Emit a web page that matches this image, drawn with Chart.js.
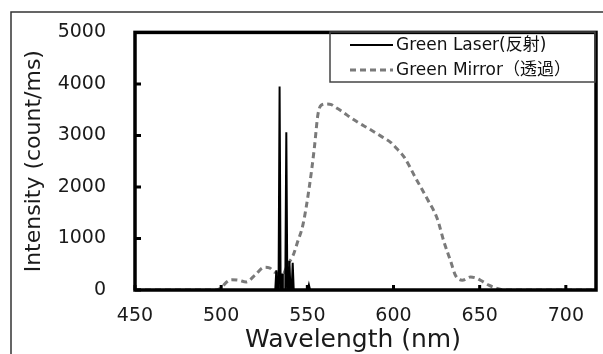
<!DOCTYPE html>
<html><head><meta charset="utf-8">
<script src="https://cdn.jsdelivr.net/npm/chart.js@4.4.1/dist/chart.umd.min.js"></script>
<style>html,body{margin:0;padding:0;background:#fff}#wrap{width:603px;height:354px;position:relative}</style>
</head><body><div id="wrap"><canvas id="c"></canvas></div>
<script>
const laserLabel = 'Green Laser(反射)';
const mirrorLabel = 'Green Mirror（透過）';
const xTitle = 'Wavelength (nm)';
const yTitle = 'Intensity (count/ms)';
const xTicks = [450, 500, 550, 600, 650, 700];
const yTicks = [0, 1000, 2000, 3000, 4000, 5000];

const laserWl  = [450, 531.4, 532.0, 532.6, 533.3, 533.9, 534.5, 534.9, 535.3, 535.8, 537.2, 537.8, 538.4, 539.0, 539.6, 540.2, 540.9, 541.5, 542.1, 550.2, 550.9, 551.6, 717];
const laserVal = [0,   0,     380,   0,     0,     3950,  0,     0,     320,   0,     0,     3060,  0,     0,     560,   0,     0,     530,   0,     0,     100,   0,     0];

const mirrorWl  = [450, 497, 500, 503, 506, 510, 514.5, 519.5, 525, 528, 531, 535.8, 538.7, 541.6, 544.5, 547.4, 551.2, 554.1, 556.1, 558, 561, 564, 566, 570, 575.6, 580, 585, 592.7, 598.5, 602, 606.2, 612.9, 619.7, 625.4, 629.2, 633.1, 636, 639.9, 644.7, 648, 650.5, 655.3, 660.1, 665, 717];
const mirrorVal = [0,   0,   40,  150, 200, 190, 157,   283,   440, 430, 345, 315,   503,   660,   950,   1258,  2013,  2767,  3396,  3585, 3610, 3598, 3553, 3470, 3334, 3240, 3145, 2987, 2862, 2740, 2579, 2170, 1760, 1383, 943, 566, 283, 189, 251, 230, 189, 94, 32, 0, 0];

const FONT = "'DejaVu Sans', 'Noto Sans CJK JP', sans-serif";
const MIRROR_COLOR = '#7a7a7a';

const decor = {
  id: 'decor',
  afterDraw(chart) {
    const ctx = chart.ctx;
    const a = chart.chartArea;
    const xs = chart.scales.x, ys = chart.scales.y;
    ctx.save();
    // outer frame
    ctx.strokeStyle = '#333';
    ctx.lineWidth = 1.5;
    ctx.beginPath();
    ctx.moveTo(11, 354); ctx.lineTo(11, 12); ctx.lineTo(603, 12);
    ctx.stroke();
    // plot frame
    ctx.strokeStyle = '#000';
    ctx.lineWidth = 3.5;
    ctx.strokeRect(a.left, a.top, a.right - a.left, a.bottom - a.top);
    // inward ticks
    ctx.lineWidth = 3;
    ctx.beginPath();
    xTicks.forEach(v => {
      const px = xs.getPixelForValue(v);
      ctx.moveTo(px, a.bottom); ctx.lineTo(px, a.bottom - 5);
    });
    yTicks.forEach(v => {
      const py = ys.getPixelForValue(v);
      ctx.moveTo(a.left, py); ctx.lineTo(a.left + 6, py);
    });
    ctx.stroke();
    // legend
    ctx.lineWidth = 1.5;
    ctx.strokeStyle = '#444';
    ctx.strokeRect(330, 32, 265, 50);
    const ds = chart.data.datasets;
    const rows = [45, 70];
    ds.forEach((d, i) => {
      ctx.beginPath();
      ctx.strokeStyle = d.borderColor;
      ctx.lineWidth = d.borderWidth;
      ctx.setLineDash(d.borderDash || []);
      ctx.moveTo(350, rows[i]); ctx.lineTo(393, rows[i]);
      ctx.stroke();
      ctx.setLineDash([]);
      ctx.fillStyle = '#111';
      ctx.font = '17px ' + FONT;
      ctx.textAlign = 'left';
      ctx.textBaseline = 'middle';
      ctx.fillText(d.label, 396, rows[i] + 1);
    });
    // x title
    ctx.fillStyle = '#1a1a1a';
    ctx.font = '25px ' + FONT;
    ctx.textAlign = 'center';
    ctx.textBaseline = 'alphabetic';
    ctx.fillText(xTitle, 353, 347);
    ctx.restore();
  }
};

new Chart(document.getElementById('c'), {
  type: 'scatter',
  data: {
    datasets: [
      {
        label: laserLabel,
        data: laserWl.map((x, i) => ({x: x, y: laserVal[i]})),
        showLine: true, borderColor: '#000', borderWidth: 2, pointRadius: 0, tension: 0
      },
      {
        label: mirrorLabel,
        data: mirrorWl.map((x, i) => ({x: x, y: mirrorVal[i]})),
        showLine: true, borderColor: MIRROR_COLOR, borderWidth: 3, borderDash: [6, 4],
        pointRadius: 0, cubicInterpolationMode: 'monotone'
      }
    ]
  },
  options: {
    responsive: true, maintainAspectRatio: false, animation: false, devicePixelRatio: 1,
    layout: {padding: {left: 0, top: 25, right: 7, bottom: 0}},
    plugins: {legend: {display: false}, tooltip: {enabled: false}},
    scales: {
      x: {
        type: 'linear', min: 450, max: 717.5,
        afterFit(s) { s.height = 64; },
        afterBuildTicks(s) { s.ticks = xTicks.map(v => ({value: v})); },
        ticks: {padding: 7, font: {family: FONT, size: 19}, color: '#1a1a1a', maxRotation: 0, autoSkip: false,
                callback: v => String(v)},
        grid: {display: false}, border: {display: false}
      },
      y: {
        min: 0, max: 5000,
        afterFit(s) { s.width = 135; },
        afterBuildTicks(s) { s.ticks = yTicks.map(v => ({value: v})); },
        ticks: {padding: 21, font: {family: FONT, size: 19}, color: '#1a1a1a', callback: v => String(v)},
        grid: {display: false}, border: {display: false},
        title: {display: true, text: yTitle, font: {family: FONT, size: 22}, color: '#1a1a1a', padding: {top: 21, bottom: 0}}
      }
    }
  },
  plugins: [decor]
});
</script></body></html>
